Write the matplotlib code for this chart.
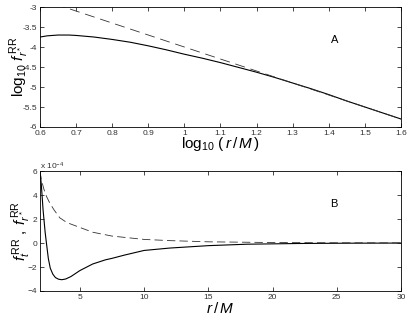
import numpy as np
import matplotlib
matplotlib.use('Agg')
import matplotlib.pyplot as plt

plt.rcParams['font.family'] = ['Liberation Sans', 'DejaVu Sans']
plt.rcParams['mathtext.fontset'] = 'custom'
plt.rcParams['mathtext.rm'] = 'Liberation Sans'
plt.rcParams['mathtext.it'] = 'Liberation Sans:italic'

# panel A: log10 f_r*^RR vs log10(r/M)
logr_solid = [0.60, 0.62, 0.65, 0.68, 0.70, 0.75, 0.80, 0.85, 0.90, 0.95, 1.00,
              1.05, 1.10, 1.15, 1.20, 1.25, 1.30, 1.35, 1.40, 1.45, 1.50, 1.55, 1.60]
logf_solid = [-3.75, -3.72, -3.70, -3.70, -3.71, -3.75, -3.81, -3.88, -3.97, -4.07, -4.18,
              -4.28, -4.39, -4.51, -4.63, -4.76, -4.90, -5.04, -5.19, -5.35, -5.50, -5.65, -5.80]
logr_dash = [0.60, 1.60]
logf_dash = [-2.80, -5.80]

# panel B: f_t^RR (solid) and f_r*^RR (dashed), units of 1e-4
r_solid = [1.9, 2.0, 2.14, 2.3, 2.4, 2.55, 2.7, 2.9, 3.1, 3.35, 3.6, 3.9, 4.3, 5.0,
           6.0, 7.0, 7.5, 8.5, 10, 12, 15, 18, 22, 26, 30]
ft_solid = [6.0, 4.9, 2.75, 0.9, 0.0, -1.3, -2.1, -2.6, -2.88, -3.02, -3.06, -3.0, -2.8, -2.3,
            -1.75, -1.4, -1.28, -1.0, -0.62, -0.42, -0.22, -0.1, -0.04, -0.015, -0.005]
r_dash = [1.9, 2.0, 2.2, 2.4, 2.66, 3.0, 3.44, 4.0, 5.0, 6.0, 7.5, 10, 12, 15, 20, 25, 30]
fr_dash = [6.0, 5.3, 4.5, 3.9, 3.33, 2.75, 2.1, 1.7, 1.3, 0.9, 0.58, 0.3, 0.2, 0.1, 0.04, 0.02, 0.01]

fig = plt.figure(figsize=(4.09, 3.19), dpi=100)
ax1 = fig.add_axes([0.0978, 0.6019, 0.8826, 0.376])
ax2 = fig.add_axes([0.0978, 0.0878, 0.8826, 0.376])

for ax in (ax1, ax2):
    ax.tick_params(direction='in', top=True, right=True, length=3, width=0.5,
                   labelsize=6, labelcolor='#333333', pad=2)
    for s in ax.spines.values():
        s.set_linewidth(0.6)

ax1.plot(logr_solid, logf_solid, color='black', lw=0.8)
ax1.plot(logr_dash, logf_dash, color='#333333', lw=0.6, dashes=(12, 7))
ax1.set_xlim(0.6, 1.6)
ax1.set_ylim(-6, -3)
ax1.set_xticks(np.arange(0.6, 1.61, 0.1))
ax1.set_xticklabels(['0.6', '0.7', '0.8', '0.9', '1', '1.1', '1.2', '1.3', '1.4', '1.5', '1.6'])
ax1.set_yticks(np.arange(-6, -2.9, 0.5))
ax1.set_yticklabels(['-6', '-5.5', '-5', '-4.5', '-4', '-3.5', '-3'])
ax1.set_xlabel(r'$\log_{10}\,(\,r\,/\,M\,)$', fontsize=11, labelpad=-1)
ax1.set_ylabel(r'$\log_{10}\,f^{\,\rm RR}_{r^*}$', fontsize=11, labelpad=-6)
ax1.text(0.805, 0.7, 'A', transform=ax1.transAxes, fontsize=8)

ax2.plot(r_solid, ft_solid, color='black', lw=0.8)
ax2.plot(r_dash, fr_dash, color='#333333', lw=0.6, dashes=(10, 5))
ax2.set_xlim(1.9, 30)
ax2.set_ylim(-4, 6)
ax2.set_xticks([5, 10, 15, 20, 25, 30])
ax2.set_yticks([-4, -2, 0, 2, 4, 6])
ax2.set_xlabel(r'$r\,/\,M$', fontsize=11, labelpad=0)
ax2.set_ylabel(r'$f^{\,\rm RR}_{t}\;,\;f^{\,\rm RR}_{r^*}$', fontsize=11, labelpad=-4)
ax2.text(0.0, 1.01, r'x 10$^{-4}$', transform=ax2.transAxes, fontsize=6, color='#333333')
ax2.text(0.805, 0.7, 'B', transform=ax2.transAxes, fontsize=8)

fig.savefig('out.png', dpi=100)
